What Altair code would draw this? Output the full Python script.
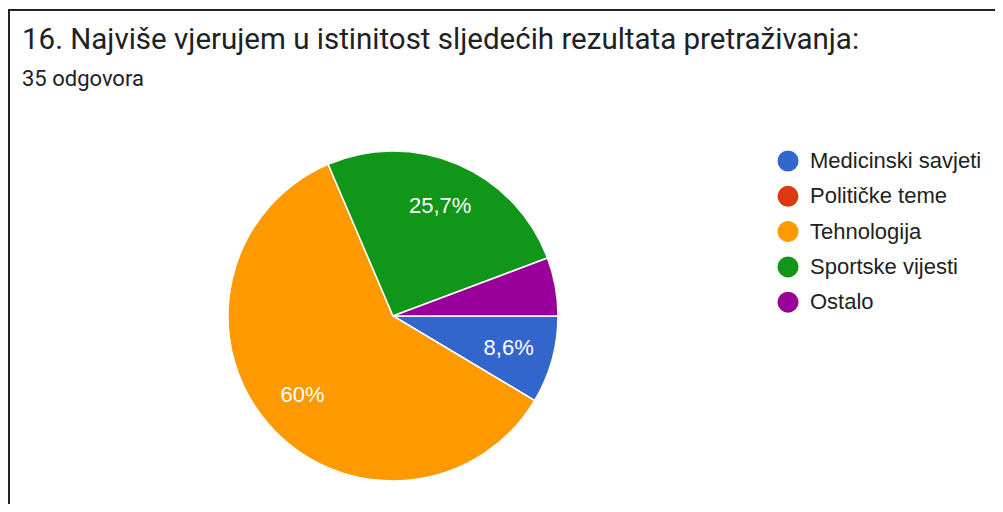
import math
import altair as alt
import pandas as pd

# Data
categories = ["Medicinski savjeti", "Političke teme", "Tehnologija", "Sportske vijesti", "Ostalo"]
counts = [3, 0, 21, 9, 2]
colors = ["#3366cc", "#dc3912", "#ff9900", "#109618", "#990099"]
title_text = "16. Najviše vjerujem u istinitost sljedećih rezultata pretraživanja:"
subtitle_text = "35 odgovora"

total = sum(counts)

def fmt(v):
    p = v / total * 100
    s = f"{p:.1f}".rstrip("0").rstrip(".")
    return s.replace(".", ",") + "%"

labels = [fmt(v) if v / total >= 0.06 else "" for v in counts]

df = pd.DataFrame({
    "cat": categories,
    "count": counts,
    "idx": list(range(len(categories))),
    "label": labels,
})

CX, CY, R = 385, 308, 165
theta_scale = alt.Scale(range=[math.pi / 2, math.pi / 2 + 2 * math.pi])

base = alt.Chart(df)

pie = base.mark_arc(outerRadius=R, stroke="white", strokeWidth=1.5).encode(
    theta=alt.Theta("count:Q", stack=True, scale=theta_scale),
    color=alt.Color(
        "cat:N",
        scale=alt.Scale(domain=categories, range=colors),
        sort=categories,
        legend=alt.Legend(
            title=None,
            orient="none",
            legendX=769,
            legendY=142,
            symbolType="circle",
            symbolSize=441,
            symbolStrokeWidth=0,
            labelFont="Liberation Sans",
            labelFontSize=22,
            labelColor="#222222",
            labelOffset=11,
            rowPadding=13.3,
            labelLimit=400,
            padding=0,
        ),
    ),
    order=alt.Order("idx:Q"),
    x=alt.value(CX),
    y=alt.value(CY),
)

text = base.mark_text(
    radius=120, fill="white", fontSize=22, font="Liberation Sans"
).encode(
    theta=alt.Theta("count:Q", stack=True, scale=theta_scale),
    order=alt.Order("idx:Q"),
    text="label:N",
    x=alt.value(CX),
    y=alt.value(CY),
)

title = alt.Chart(pd.DataFrame({"t": [title_text]})).mark_text(
    align="left", baseline="alphabetic", font="Roboto", fontSize=29.5, color="#202124"
).encode(text="t:N", x=alt.value(14), y=alt.value(41))

subtitle = alt.Chart(pd.DataFrame({"t": [subtitle_text]})).mark_text(
    align="left", baseline="alphabetic", font="Roboto", fontSize=22, color="#202124"
).encode(text="t:N", x=alt.value(14), y=alt.value(78))

border_top = alt.Chart(pd.DataFrame({"b": [0]})).mark_rule(color="#222222", strokeWidth=2).encode(
    x=alt.value(0), x2=alt.value(987), y=alt.value(2)
)
border_left = alt.Chart(pd.DataFrame({"b": [0]})).mark_rule(color="#222222", strokeWidth=2).encode(
    x=alt.value(1), y=alt.value(1), y2=alt.value(496)
)

chart = alt.layer(pie, text, title, subtitle, border_top, border_left).properties(
    width=987,
    height=496,
    autosize=alt.AutoSizeParams(type="none"),
    padding=0,
).configure_view(stroke=None)

chart.save("out.html", embed_options={"renderer": "svg", "actions": False})
